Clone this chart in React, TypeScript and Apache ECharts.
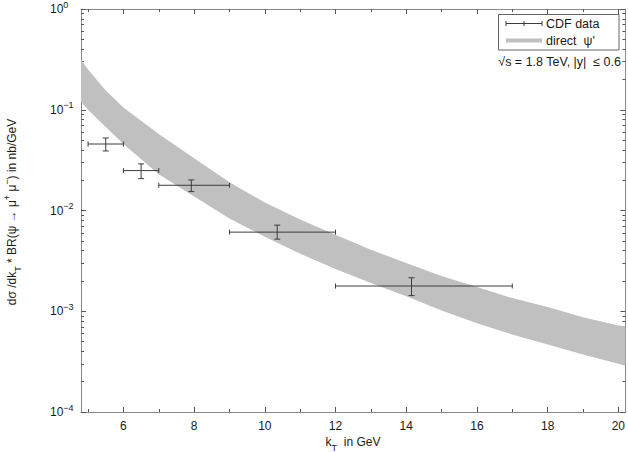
import React, { useEffect, useRef } from "react";
import * as echarts from "echarts";

// Theory band (direct psi'), sampled at kT values
const bandKT = [4.8, 5, 5.5, 6, 7, 8, 9, 10, 11, 12, 13, 14, 15, 16, 17, 18, 19, 20, 20.2];
const bandUpper = [0.316, 0.251, 0.155, 0.105, 0.0575, 0.0331, 0.0191, 0.012, 0.00813, 0.00575, 0.00407, 0.00302, 0.00224, 0.00174, 0.00135, 0.0011, 0.000871, 0.000724, 0.000708];
const bandLower = [0.12, 0.1, 0.0676, 0.0457, 0.0229, 0.0138, 0.00832, 0.0055, 0.00372, 0.00263, 0.00191, 0.00141, 0.00102, 0.000759, 0.000589, 0.000468, 0.000372, 0.000302, 0.000288];

// CDF data points with error bars
const cdfX = [5.5, 6.5, 7.92, 10.35, 14.15];
const cdfXLow = [5, 6, 7, 9, 12];
const cdfXHigh = [6, 7, 9, 12, 17];
const cdfY = [0.0457, 0.0249, 0.0178, 0.0061, 0.00178];
const cdfYLow = [0.039, 0.0207, 0.0154, 0.0052, 0.00143];
const cdfYHigh = [0.0524, 0.029, 0.0201, 0.00716, 0.00215];

// Axis ticks
const xMajorTicks = [6, 8, 10, 12, 14, 16, 18, 20];
const xMinorTicks = [5, 7, 9, 11, 13, 15, 17, 19];
const yDecadeExponents = [-4, -3, -2, -1];
const yMinorMultipliers = [2, 3, 4, 5, 6, 7, 8, 9];

const X_MIN = 4.8;
const X_MAX = 20.2;
const FONT = "'Liberation Sans', Arial, Helvetica, sans-serif";
const TEXT = "#1a1a1a";
const AXIS = "#8a8a8a";
const TICK = "#555555";
const BAND = "#c0c0c0";
const BAR = "#3c3c3c";

export default function App() {
  const ref = useRef<HTMLDivElement>(null);

  useEffect(() => {
    const chart = echarts.init(ref.current as HTMLDivElement, null, { renderer: "svg" });

    const yMinorLog: number[] = [];
    yDecadeExponents.forEach((e) => yMinorMultipliers.forEach((m) => yMinorLog.push(e + Math.log10(m))));

    const bandData = bandKT.map((k, i) => [k, bandUpper[i], bandLower[i]]);
    const cdfData = cdfX.map((x, i) => [x, cdfY[i], cdfXLow[i], cdfXHigh[i], cdfYLow[i], cdfYHigh[i]]);

    const hidden = { show: false };
    const xBase = (position: string, ticks: number[], len: number, labels: boolean, line: boolean) => ({
      type: "value",
      position,
      min: X_MIN,
      max: X_MAX,
      axisLine: { show: line, onZero: false, lineStyle: { color: AXIS, width: 1 } },
      axisTick: { show: true, inside: true, length: len, customValues: ticks, lineStyle: { color: TICK, width: 1 } },
      axisLabel: labels
        ? { show: true, customValues: xMajorTicks, color: TEXT, fontSize: 12, fontFamily: FONT, margin: 8 }
        : { show: false },
      splitLine: hidden,
      minorTick: hidden,
    });

    const yLogAxis = (position: string, labels: boolean) => ({
      type: "log",
      logBase: 10,
      position,
      min: 1e-4,
      max: 1,
      axisLine: { show: true, onZero: false, lineStyle: { color: AXIS, width: 1 } },
      axisTick: { show: true, inside: true, length: 5, lineStyle: { color: TICK, width: 1 } },
      axisLabel: labels
        ? {
            show: true,
            align: "left",
            margin: 31,
            formatter: (v: number) => {
              const e = Math.round(Math.log10(v));
              return `{b|10}{e|${e < 0 ? "\u2212" + Math.abs(e) : e}}`;
            },
            rich: {
              b: { fontSize: 12, fontFamily: FONT, color: TEXT },
              e: { fontSize: 9, fontFamily: FONT, color: TEXT, padding: [0, 0, 9, 0] },
            },
          }
        : { show: false },
      splitLine: hidden,
    });

    const yMinorAxis = (position: string) => ({
      type: "value",
      position,
      min: -4,
      max: 0,
      axisLine: hidden,
      axisTick: { show: true, inside: true, length: 3, customValues: yMinorLog, lineStyle: { color: TICK, width: 1 } },
      axisLabel: hidden,
      splitLine: hidden,
    });

    const option: any = {
      animation: false,
      backgroundColor: "#ffffff",
      grid: { left: 81, right: 2, top: 8, bottom: 40, containLabel: false },
      xAxis: [
        xBase("bottom", xMajorTicks, 5, true, true),
        xBase("bottom", xMinorTicks, 3, false, false),
        xBase("top", xMajorTicks, 5, false, true),
        xBase("top", xMinorTicks, 3, false, false),
      ],
      yAxis: [yLogAxis("left", true), yMinorAxis("left"), yLogAxis("right", false), yMinorAxis("right")],
      series: [
        {
          type: "custom",
          name: "direct psi'",
          xAxisIndex: 0,
          yAxisIndex: 0,
          clip: true,
          silent: true,
          data: bandData,
          renderItem: (params: any, api: any) => {
            if (params.dataIndex !== 0) return { type: "group", children: [] };
            const up = bandData.map((d) => api.coord([d[0], d[1]]));
            const lo = bandData.map((d) => api.coord([d[0], d[2]])).reverse();
            return {
              type: "polygon",
              shape: { points: up.concat(lo), smooth: 0 },
              style: { fill: BAND, stroke: "none" },
            };
          },
        },
        {
          type: "custom",
          name: "CDF data",
          xAxisIndex: 0,
          yAxisIndex: 0,
          clip: false,
          silent: true,
          data: cdfData,
          renderItem: (params: any, api: any) => {
            const x = api.value(0);
            const y = api.value(1);
            const c = api.coord([x, y]);
            const l = api.coord([api.value(2), y]);
            const r = api.coord([api.value(3), y]);
            const b = api.coord([x, api.value(4)]);
            const t = api.coord([x, api.value(5)]);
            const st = { stroke: BAR, lineWidth: 1, fill: "none" };
            const cap = 3;
            const endT = 2.5;
            const line = (x1: number, y1: number, x2: number, y2: number) => ({
              type: "line",
              shape: { x1, y1, x2, y2 },
              style: st,
            });
            return {
              type: "group",
              children: [
                line(l[0], c[1], r[0], c[1]),
                line(l[0], c[1] - endT, l[0], c[1] + endT),
                line(r[0], c[1] - endT, r[0], c[1] + endT),
                line(c[0], t[1], c[0], b[1]),
                line(c[0] - cap, t[1], c[0] + cap, t[1]),
                line(c[0] - cap, b[1], c[0] + cap, b[1]),
              ],
            };
          },
        },
      ],
      graphic: [
        {
          type: "rect",
          shape: { x: 498.5, y: 14.5, width: 120.5, height: 35.5 },
          style: { fill: "#ffffff", stroke: "#666666", lineWidth: 1 },
          z: 100,
        },
        { type: "line", shape: { x1: 506, y1: 23.5, x2: 542, y2: 23.5 }, style: { stroke: BAR, lineWidth: 1 }, z: 101 },
        { type: "line", shape: { x1: 506, y1: 21, x2: 506, y2: 26 }, style: { stroke: BAR, lineWidth: 1 }, z: 101 },
        { type: "line", shape: { x1: 524, y1: 21, x2: 524, y2: 26 }, style: { stroke: BAR, lineWidth: 1 }, z: 101 },
        { type: "line", shape: { x1: 542, y1: 21, x2: 542, y2: 26 }, style: { stroke: BAR, lineWidth: 1 }, z: 101 },
        { type: "line", shape: { x1: 506, y1: 40.5, x2: 542, y2: 40.5 }, style: { stroke: BAND, lineWidth: 4 }, z: 101 },
        {
          type: "text",
          x: 546,
          y: 23.5,
          z: 101,
          style: { text: "CDF data", fontSize: 12.5, fontFamily: FONT, fill: TEXT, align: "left", verticalAlign: "middle" },
        },
        {
          type: "text",
          x: 546,
          y: 40.5,
          z: 101,
          style: { text: "direct  \u03c8'", fontSize: 12.5, fontFamily: FONT, fill: TEXT, align: "left", verticalAlign: "middle" },
        },
        {
          type: "text",
          x: 621,
          y: 62,
          z: 101,
          style: {
            text: "\u221as = 1.8 TeV, |y|  \u2264 0.6",
            fontSize: 12.5,
            fontFamily: FONT,
            fill: TEXT,
            align: "right",
            verticalAlign: "middle",
          },
        },
        {
          type: "text",
          x: 353,
          y: 442,
          style: {
            text: "{b|k}{s|T}{b|  in GeV}",
            align: "center",
            verticalAlign: "middle",
            fill: TEXT,
            rich: {
              b: { fontSize: 12, fontFamily: FONT, fill: TEXT, lineHeight: 20 },
              s: { fontSize: 9, fontFamily: FONT, fill: TEXT, lineHeight: 12, verticalAlign: "bottom" },
            },
          },
        },
        {
          type: "text",
          x: 12,
          y: 212,
          rotation: Math.PI / 2,
          style: {
            text:
              "{b|d\u03c3 /dk}{s|T}{b| * BR(\u03c8 \u2192 \u03bc}{p|+}{b| \u03bc}{p|\u2212}{b|) in nb/GeV}",
            align: "center",
            verticalAlign: "middle",
            fill: TEXT,
            rich: {
              b: { fontSize: 12, fontFamily: FONT, fill: TEXT, lineHeight: 20 },
              s: { fontSize: 9, fontFamily: FONT, fill: TEXT, lineHeight: 12, verticalAlign: "bottom" },
              p: { fontSize: 9, fontFamily: FONT, fill: TEXT, lineHeight: 12, verticalAlign: "top" },
            },
          },
        },
      ],
    };

    chart.setOption(option);
    return () => chart.dispose();
  }, []);

  return <div ref={ref} style={{ position: "absolute", left: 0, top: 0, width: 628, height: 452 }} />;
}
